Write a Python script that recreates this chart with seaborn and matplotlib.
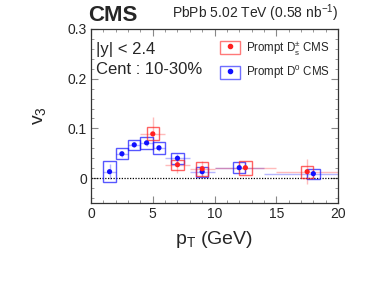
import matplotlib
matplotlib.use("Agg")
import matplotlib.pyplot as plt
import matplotlib.patches as mpatches
from matplotlib.lines import Line2D
from matplotlib.legend_handler import HandlerTuple
from matplotlib.ticker import MultipleLocator
import seaborn as sns
import pandas as pd

# === Data: prompt D0 v3 ===
d0_pt = [1.5, 2.5, 3.5, 4.5, 5.5, 7.0, 9.0, 12.0, 18.0]
d0_v3 = [0.013, 0.049, 0.067, 0.071, 0.061, 0.040, 0.013, 0.021, 0.009]
d0_stat = [0.015, 0.006, 0.005, 0.006, 0.006, 0.008, 0.010, 0.008, 0.008]
d0_syst = [0.021, 0.011, 0.010, 0.012, 0.012, 0.011, 0.010, 0.011, 0.010]
d0_lo = [1, 2, 3, 4, 5, 6, 8, 10, 14]
d0_hi = [2, 3, 4, 5, 6, 8, 10, 14, 20]

# === Data: prompt Ds v3 ===
ds_pt = [5.0, 7.0, 9.0, 12.5, 17.5]
ds_v3 = [0.089, 0.027, 0.019, 0.021, 0.013]
ds_stat = [0.033, 0.016, 0.015, 0.012, 0.025]
ds_syst = [0.013, 0.010, 0.014, 0.014, 0.012]
ds_lo = [4, 6, 8, 10, 15]
ds_hi = [6, 8, 10, 15, 20]

sns.set_style("ticks")
plt.rcParams["font.family"] = ["Liberation Sans", "DejaVu Sans"]
plt.rcParams["mathtext.fontset"] = "custom"
plt.rcParams["mathtext.rm"] = "Liberation Sans"
plt.rcParams["mathtext.it"] = "Liberation Sans"

fig = plt.figure(figsize=(3.89, 2.90), dpi=100)
ax = fig.add_axes([0.234, 0.30, 0.635, 0.60])

BOX_HW = 0.5


def draw_series(pt, v3, stat, syst, lo, hi, color):
    df = pd.DataFrame({"pt": pt, "v3": v3})
    xerr = [[p - l for p, l in zip(pt, lo)], [h - p for p, h in zip(pt, hi)]]
    ax.errorbar(pt, v3, yerr=stat, xerr=xerr, fmt="none", ecolor=color,
                alpha=0.3, lw=1.0, zorder=2)
    for p, v, s in zip(pt, v3, syst):
        ax.add_patch(mpatches.Rectangle((p - BOX_HW, v - s), 2 * BOX_HW, 2 * s,
                                        fill=False, edgecolor=color, alpha=0.7,
                                        lw=1.0, zorder=3))
    sns.scatterplot(data=df, x="pt", y="v3", color=color, s=14, edgecolor="none",
                    ax=ax, zorder=4, legend=False)


draw_series(d0_pt, d0_v3, d0_stat, d0_syst, d0_lo, d0_hi, "#1010ff")
draw_series(ds_pt, ds_v3, ds_stat, ds_syst, ds_lo, ds_hi, "#ff2020")

ax.axhline(0, color="black", ls=(0, (1, 1.2)), lw=0.9, zorder=1)

ax.set_xlim(0, 20)
ax.set_ylim(-0.05, 0.3)
ax.xaxis.set_minor_locator(MultipleLocator(1))
ax.yaxis.set_minor_locator(MultipleLocator(0.02))
ax.set_xticks([0, 5, 10, 15, 20], ["0", "5", "10", "15", "20"])
ax.set_yticks([0, 0.1, 0.2, 0.3], ["0", "0.1", "0.2", "0.3"])
ax.tick_params(which="both", direction="in", top=True, right=True,
               color="#888888", labelsize=10, pad=3)
ax.tick_params(which="major", length=5)
ax.tick_params(which="minor", length=2.5)
for sp in ax.spines.values():
    sp.set_color("#333333")
    sp.set_linewidth(0.9)

ax.set_xlabel(r"p$_{\mathrm{T}}$ (GeV)", fontsize=14, labelpad=6)
ax.set_ylabel(r"v$_{3}$", fontsize=14, labelpad=14)

ax.text(-0.012, 1.015, "CMS", transform=ax.transAxes, fontsize=16,
        fontweight="bold", ha="left", va="bottom")
ax.text(1.0, 1.03, r"PbPb 5.02 TeV (0.58 nb$^{-1}$)", transform=ax.transAxes,
        fontsize=10, ha="right", va="bottom")
ax.text(0.022, 0.885, "|y| < 2.4", transform=ax.transAxes, fontsize=12,
        ha="left", va="center")
ax.text(0.022, 0.77, "Cent : 10-30%", transform=ax.transAxes, fontsize=12,
        ha="left", va="center")

h_ds = (mpatches.Rectangle((0, 0), 1, 1, fill=False, edgecolor="#ff2020", alpha=0.6),
        Line2D([], [], marker="o", color="#ff2020", ls="none", markersize=3))
h_d0 = (mpatches.Rectangle((0, 0), 1, 1, fill=False, edgecolor="#1010ff", alpha=0.6),
        Line2D([], [], marker="o", color="#1010ff", ls="none", markersize=3))
ax.legend([h_ds, h_d0], [r"Prompt D$_{s}^{\pm}$ CMS", r"Prompt D$^{0}$ CMS"],
          handler_map={tuple: HandlerTuple(ndivide=1, pad=0)},
          loc="upper right", bbox_to_anchor=(1.0, 0.99), frameon=False,
          fontsize=8.3, handlelength=1.8, handleheight=1.4, handletextpad=0.5,
          labelspacing=0.55, borderaxespad=0.3)

fig.savefig("out.png", dpi=100)
